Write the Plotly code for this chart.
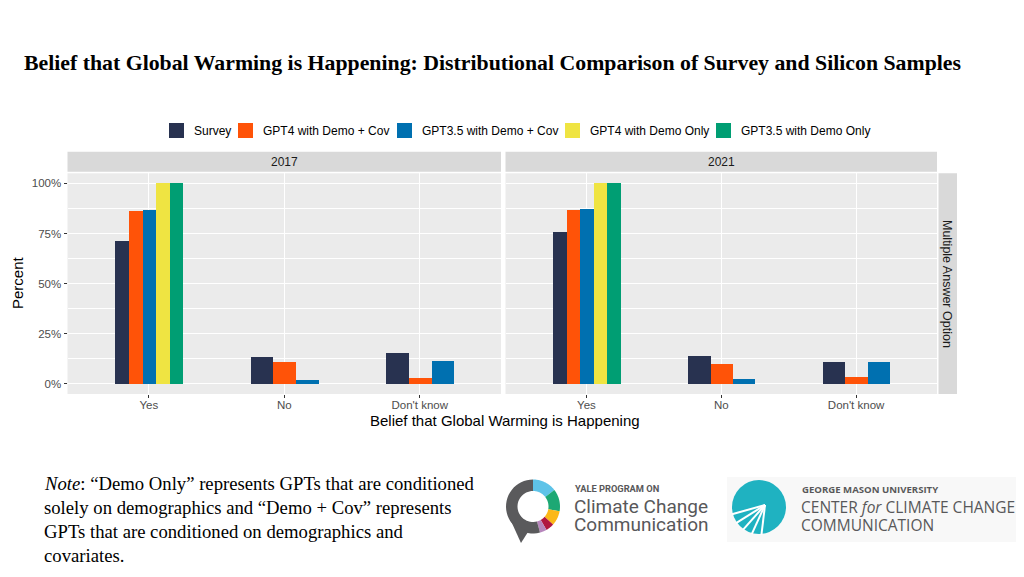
import math
import plotly.graph_objects as go

# ---------------- data ----------------
categories = ["Yes", "No", "Don't know"]
series_names = ["Survey", "GPT4 with Demo + Cov", "GPT3.5 with Demo + Cov",
                "GPT4 with Demo Only", "GPT3.5 with Demo Only"]
series_colors = ["#283250", "#FF5308", "#0070B0", "#EFE442", "#009E73"]
years = ["2017", "2021"]

survey_2017 = [71.1, 13.5, 15.2]
gpt4_cov_2017 = [86.1, 10.9, 3.0]
gpt35_cov_2017 = [86.6, 2.0, 11.2]
gpt4_demo_2017 = [100.0, None, None]
gpt35_demo_2017 = [100.0, None, None]

survey_2021 = [75.6, 13.9, 10.7]
gpt4_cov_2021 = [86.5, 10.0, 3.5]
gpt35_cov_2021 = [87.1, 2.5, 10.7]
gpt4_demo_2021 = [100.0, None, None]
gpt35_demo_2021 = [100.0, None, None]

y_ticks = [0, 25, 50, 75, 100]
y_tick_labels = ["0%", "25%", "50%", "75%", "100%"]

values = {
    "2017": [survey_2017, gpt4_cov_2017, gpt35_cov_2017, gpt4_demo_2017, gpt35_demo_2017],
    "2021": [survey_2021, gpt4_cov_2021, gpt35_cov_2021, gpt4_demo_2021, gpt35_demo_2021],
}

# ---------------- geometry helpers ----------------
# page has an 8px body margin, so the figure is placed at (8, 8)
OFF = 8
W, H = 1016, 561
def px(x):
    return (x - OFF) / W
def py(y):
    return 1 - (y - OFF) / H

DODGE = 0.5
fig = go.Figure()

for fi, yr in enumerate(years):
    vals = values[yr]
    xref = "x" if fi == 0 else "x2"
    yref = "y" if fi == 0 else "y2"
    # dodge like ggplot: bars share the group width among present series
    present = {ci: [si for si in range(len(series_names)) if vals[si][ci] is not None]
               for ci in range(len(categories))}
    for si, name in enumerate(series_names):
        xs, ys, ws = [], [], []
        for ci in range(len(categories)):
            v = vals[si][ci]
            if v is None:
                continue
            n = len(present[ci])
            k = present[ci].index(si)
            w = DODGE / n
            xs.append(ci + (k - (n - 1) / 2) * w)
            ys.append(v)
            ws.append(w)
        fig.add_trace(go.Bar(x=xs, y=ys, width=ws, name=name,
                             marker=dict(color=series_colors[si], line=dict(width=0)),
                             showlegend=False, xaxis=xref, yaxis=yref))

# panel domains
left_dom = [px(67.5), px(501)]
right_dom = [px(505.5), px(937)]
y_dom = [py(394), py(173.3)]

tickfont = dict(family="Liberation Sans, Arial", size=11.5, color="#4D4D4D")
xcommon = dict(range=[-0.6, 2.6], tickvals=[0, 1, 2], ticktext=categories,
               showgrid=True, gridcolor="white", gridwidth=1.1, zeroline=False,
               ticks="outside", ticklen=3, tickcolor="#333333", tickwidth=1,
               tickfont=tickfont, ticklabelstandoff=-3,
               showline=False, fixedrange=True)
ycommon = dict(range=[-5, 105], tickvals=y_ticks, ticktext=y_tick_labels,
               showgrid=True, gridcolor="white", gridwidth=1.1, zeroline=False,
               minor=dict(dtick=12.5, tick0=0, showgrid=True, gridcolor="white", gridwidth=0.5),
               ticks="outside", ticklen=3, tickcolor="#333333", tickwidth=1,
               tickfont=tickfont, showline=False, fixedrange=True)

fig.update_layout(
    width=W, height=H,
    margin=dict(l=0, r=0, t=0, b=0),
    paper_bgcolor="white", plot_bgcolor="#EBEBEB",
    barmode="overlay", bargap=0,
    xaxis=dict(domain=left_dom, anchor="y", **xcommon),
    xaxis2=dict(domain=right_dom, anchor="y2", **xcommon),
    yaxis=dict(domain=y_dom, anchor="x", **ycommon),
    yaxis2=dict(domain=y_dom, anchor="x2", matches="y", showticklabels=False,
                **{k: v for k, v in ycommon.items() if k not in ("ticks", "tickfont", "ticktext")}),
    showlegend=False,
)
fig.update_layout(yaxis2=dict(ticks=""))

shapes = []
annotations = []

def note(x, y, text, size, family="Liberation Sans, Arial", color="black", xanchor="left",
         yanchor="middle", angle=0, align="left"):
    annotations.append(dict(x=px(x), y=py(y), xref="paper", yref="paper", text=text,
                            showarrow=False, xanchor=xanchor, yanchor=yanchor, textangle=angle,
                            align=align, font=dict(family=family, size=size, color=color)))

# strips
for dom, yr in zip([left_dom, right_dom], years):
    shapes.append(dict(type="rect", xref="paper", yref="paper", x0=dom[0], x1=dom[1],
                       y0=py(171.7), y1=py(151.7), fillcolor="#D9D9D9", line=dict(width=0), layer="below"))
    annotations.append(dict(x=(dom[0] + dom[1]) / 2, y=py(161.7), xref="paper", yref="paper",
                            text=yr, showarrow=False, xanchor="center", yanchor="middle",
                            font=dict(family="Liberation Sans, Arial", size=12, color="#1A1A1A")))
shapes.append(dict(type="rect", xref="paper", yref="paper", x0=px(938.5), x1=px(957),
                   y0=y_dom[0], y1=y_dom[1], fillcolor="#D9D9D9", line=dict(width=0), layer="below"))
note(947.5, 283.5, "Multiple Answer Option", 12.5, color="#1A1A1A", xanchor="center", angle=90)

# axis titles
note(504.5, 420, "Belief that Global Warming is Happening", 15, xanchor="center")
note(17, 283, "Percent", 15, xanchor="center", angle=-90)

# title
note(492, 63, "<b>Belief that Global Warming is Happening: Distributional Comparison of Survey and Silicon Samples</b>",
     21.8, family="Liberation Serif, Times New Roman", xanchor="center")

# custom legend (ggplot-style keys)
legend_key_x = [169, 238, 397, 565, 716]
for xk, name, col in zip(legend_key_x, series_names, series_colors):
    shapes.append(dict(type="rect", xref="paper", yref="paper", x0=px(xk), x1=px(xk + 15),
                       y0=py(138), y1=py(123), fillcolor=col, line=dict(width=0)))
    note(xk + 23, 130.5, name, 12)

# note text (line by line)
note_lines = ["<i>Note</i>: \u201cDemo Only\u201d represents GPTs that are conditioned",
              "solely on demographics and \u201cDemo + Cov\u201d represents",
              "GPTs that are conditioned on demographics and",
              "covariates."]
for i, ln in enumerate(note_lines):
    note(42, 483 + i * 24, ln, 18.7, family="Liberation Serif, Times New Roman")

# ---- Yale logo (ring) ----
def to_path(pts):
    return "M " + " L ".join(f"{px(x):.5f},{py(y):.5f}" for x, y in pts) + " Z"

def arc_path(cx, cy, r_out, r_in, a0, a1, steps=30):
    pts_out, pts_in = [], []
    for i in range(steps + 1):
        a = math.radians(a0 + (a1 - a0) * i / steps)
        pts_out.append((cx + r_out * math.sin(a), cy - r_out * math.cos(a)))
        pts_in.append((cx + r_in * math.sin(a), cy - r_in * math.cos(a)))
    return to_path(pts_out + pts_in[::-1])

cx, cy = 533, 506.5
ring_segments = [(0, 52, "#5EC3E8"), (52, 100, "#1DA874"), (100, 132, "#FBB817"),
                 (132, 150, "#B0173F"), (150, 165, "#B786BC"), (165, 360, "#5A5A5C")]
for a0, a1, col in ring_segments:
    shapes.append(dict(type="path", xref="paper", yref="paper", path=arc_path(cx, cy, 27, 15.5, a0, a1),
                       fillcolor=col, line=dict(width=0)))
shapes.append(dict(type="path", xref="paper", yref="paper",
                   path=to_path([(511, 521), (528, 532), (521, 543)]),
                   fillcolor="#5A5A5C", line=dict(width=0)))
note(573, 488, "<b>YALE PROGRAM ON</b>", 9.3, family="Roboto", color="#58585A")
note(572, 506, "Climate Change", 19, family="Roboto", color="#58585A")
note(572, 524.5, "Communication", 19, family="Roboto", color="#58585A")

# ---- George Mason logo ----
shapes.append(dict(type="rect", xref="paper", yref="paper", x0=px(727), x1=px(1018), y0=py(542), y1=py(477),
                   fillcolor="#F8F8F8", line=dict(width=0), layer="below"))
gx, gy, gr = 759, 507, 27
shapes.append(dict(type="circle", xref="paper", yref="paper", x0=px(gx - gr), x1=px(gx + gr),
                   y0=py(gy + gr), y1=py(gy - gr), fillcolor="#1FB2C1", line=dict(width=0)))
hub = (765, 505)
for ang in [195, 215, 235, 255, 275]:
    a = math.radians(ang)
    ex, ey = gx + (gr + 1) * math.cos(a), gy - (gr + 1) * math.sin(a)
    shapes.append(dict(type="line", xref="paper", yref="paper", x0=px(hub[0]), y0=py(hub[1]),
                       x1=px(ex), y1=py(ey), line=dict(color="white", width=2)))
note(800, 489, "<b>GEORGE MASON UNIVERSITY</b>", 9.6, family="Open Sans", color="#58585A")
note(799, 507, "CENTER <i>for</i> CLIMATE CHANGE", 15.5, family="Open Sans", color="#58585A")
note(799, 525, "COMMUNICATION", 15.5, family="Open Sans", color="#58585A")

fig.update_layout(shapes=shapes, annotations=annotations)
fig.write_html("out.html")
